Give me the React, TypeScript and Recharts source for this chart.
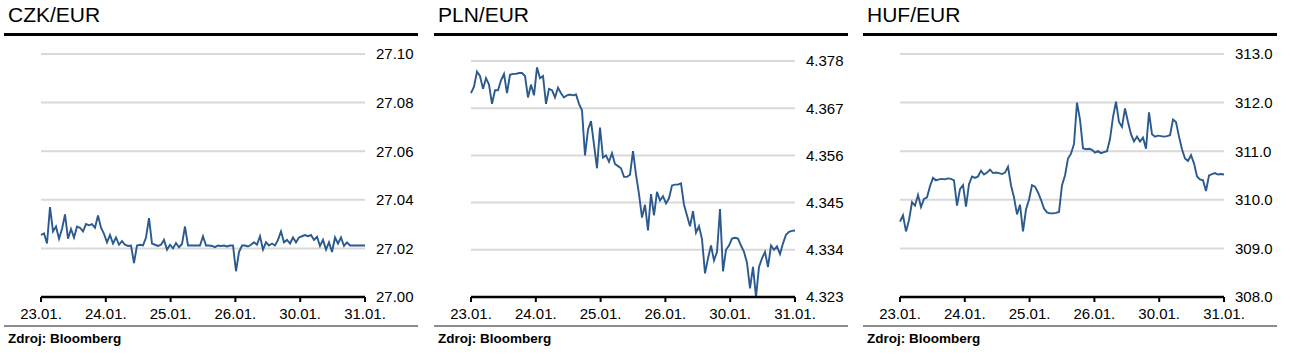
import React from 'react';
import { LineChart, Line, XAxis, YAxis, CartesianGrid } from 'recharts';

const DAYS = ['23.01.', '24.01.', '25.01.', '26.01.', '30.01.', '31.01.'];
const DAY_TICKS = [0, 1, 2, 3, 4, 5];

const CZK_TICKS = [27.0, 27.02, 27.04, 27.06, 27.08, 27.1];
const PLN_TICKS = [4.323, 4.334, 4.345, 4.356, 4.367, 4.378];
const HUF_TICKS = [308, 309, 310, 311, 312, 313];

// intraday quotes (equal steps over 23.01. - 31.01.)
const CZK = [
  27.0255, 27.0262, 27.022, 27.037, 27.027, 27.029, 27.024, 27.028, 27.034, 27.024,
  27.028, 27.0245, 27.029, 27.0285, 27.027, 27.03, 27.0295, 27.03, 27.0285, 27.0335,
  27.0285, 27.026, 27.0225, 27.0255, 27.022, 27.0245, 27.0215, 27.023, 27.0215, 27.021,
  27.0212, 27.014, 27.0212, 27.0215, 27.0212, 27.0245, 27.0325, 27.022, 27.0215, 27.021,
  27.0215, 27.0235, 27.0195, 27.0215, 27.02, 27.0222, 27.0205, 27.0218, 27.029, 27.0212,
  27.0212, 27.0212, 27.0212, 27.0212, 27.025, 27.0212, 27.0212, 27.021, 27.0205, 27.0212,
  27.021, 27.0212, 27.0208, 27.0212, 27.0212, 27.0106, 27.0185, 27.0212, 27.0212, 27.0208,
  27.0215, 27.0225, 27.0215, 27.025, 27.0195, 27.0225, 27.0212, 27.022, 27.0212, 27.0235,
  27.027, 27.0225, 27.0235, 27.022, 27.0245, 27.0225, 27.0245, 27.025, 27.0255, 27.025,
  27.0255, 27.0235, 27.0248, 27.021, 27.0235, 27.0195, 27.0225, 27.0185, 27.0245, 27.022,
  27.0245, 27.021, 27.0225, 27.0212, 27.0212, 27.0212, 27.0212, 27.0212, 27.0212,
];

const PLN = [
  4.3705, 4.372, 4.3755, 4.3745, 4.3715, 4.374, 4.3725, 4.368, 4.3712, 4.3712,
  4.3735, 4.375, 4.3705, 4.3748, 4.375, 4.375, 4.3752, 4.3752, 4.3745, 4.3695,
  4.3725, 4.37, 4.3765, 4.374, 4.3745, 4.368, 4.3715, 4.3712, 4.3695, 4.3718,
  4.3705, 4.3695, 4.37, 4.3702, 4.37, 4.3702, 4.368, 4.3665, 4.356, 4.362,
  4.364, 4.3585, 4.353, 4.3625, 4.3555, 4.356, 4.3545, 4.3565, 4.354, 4.3535,
  4.353, 4.351, 4.351, 4.3515, 4.357, 4.3515, 4.347, 4.3415, 4.3445, 4.3385,
  4.347, 4.342, 4.3475, 4.3455, 4.3465, 4.3448, 4.346, 4.349, 4.3492, 4.3492,
  4.3495, 4.3445, 4.342, 4.3395, 4.343, 4.338, 4.3395, 4.3365, 4.3285, 4.332,
  4.335, 4.3315, 4.3335, 4.3435, 4.329, 4.334, 4.335, 4.3366, 4.3368, 4.3366,
  4.335, 4.3335, 4.331, 4.325, 4.33, 4.323, 4.33, 4.332, 4.3335, 4.33,
  4.335, 4.334, 4.3348, 4.333, 4.3355, 4.3375, 4.3382, 4.3384, 4.3385,
];

const HUF = [
  309.55, 309.68, 309.35, 309.58, 309.95, 309.88, 310.1, 309.85, 310.02, 310.05,
  310.28, 310.45, 310.4, 310.42, 310.43, 310.42, 310.44, 310.43, 310.4, 309.88,
  310.22, 310.3, 309.86, 310.32, 310.48, 310.45, 310.48, 310.6, 310.52, 310.56,
  310.62, 310.55, 310.56, 310.55, 310.53, 310.56, 310.68, 310.3, 310.05, 309.7,
  309.9, 309.35, 309.8, 310.0, 310.3, 310.27, 310.15, 310.0, 309.82, 309.74,
  309.72, 309.72, 309.73, 309.75, 310.3, 310.5, 310.85, 310.95, 311.15, 312.0,
  311.65, 311.06, 311.04, 311.05, 311.03, 310.97, 311.0, 310.96, 310.98, 311.0,
  311.25, 311.7, 312.02, 311.6, 311.5, 311.88, 311.6, 311.35, 311.2, 311.3,
  311.2, 311.28, 311.05, 311.8, 311.35, 311.3, 311.32, 311.31, 311.3, 311.31,
  311.33, 311.65, 311.6, 311.3, 311.04, 310.85, 310.8, 310.92, 310.75, 310.48,
  310.42, 310.4, 310.18, 310.5, 310.53, 310.55, 310.52, 310.53, 310.52,
];

const FONT = '"Liberation Sans", Arial, sans-serif';

function toRows(values: number[]) {
  return values.map((v, i) => ({ t: (i * (DAYS.length - 1)) / (values.length - 1), v }));
}

function Panel({ title, values, ticks, decimals, left, top }: {
  title: string; values: number[]; ticks: number[]; decimals: number; left: number; top: number;
}) {
  return (
    <div style={{ position: 'absolute', left, top: 0, width: 430, height: 361 }}>
      <div style={{ position: 'absolute', left: 8, top: 4, fontSize: 21, lineHeight: '21px', color: '#000' }}>
        {title}
      </div>
      <div style={{ position: 'absolute', left: 4, top: 33, width: 414, height: 3, background: '#000' }} />
      <div style={{ position: 'absolute', left: 0, top: 0 }}>
        <LineChart width={430} height={330} data={toRows(values)} margin={{ top, right: 0, left: 41, bottom: 0 }}>
          <CartesianGrid vertical={false} stroke="#d9d9d9" strokeWidth={2} />
          <XAxis
            dataKey="t"
            type="number"
            domain={[0, 5]}
            ticks={DAY_TICKS}
            tickFormatter={(t: number) => DAYS[t]}
            height={33}
            axisLine={{ stroke: '#000', strokeWidth: 2.5 }}
            tickLine={{ stroke: '#000', strokeWidth: 2 }}
            tickSize={5}
            tickMargin={6}
            tick={{ fill: '#000', fontSize: 15, fontFamily: FONT }}
          />
          <YAxis
            orientation="right"
            type="number"
            domain={[ticks[0], ticks[ticks.length - 1]]}
            ticks={ticks}
            tickFormatter={(v: number) => v.toFixed(decimals)}
            width={65}
            axisLine={false}
            tickLine={false}
            tickSize={0}
            tickMargin={11}
            tick={{ fill: '#000', fontSize: 15, fontFamily: FONT, textAnchor: 'start' }}
          />
          <Line
            dataKey="v"
            type="linear"
            stroke="#2b5a8f"
            strokeWidth={1.9}
            dot={false}
            isAnimationActive={false}
          />
        </LineChart>
      </div>
      <div style={{ position: 'absolute', left: 4, top: 325, width: 414, height: 2, background: '#8c8c8c' }} />
      <div style={{ position: 'absolute', left: 8, top: 332, fontSize: 13.5, lineHeight: '14px', fontWeight: 'bold', color: '#000' }}>
        Zdroj: Bloomberg
      </div>
    </div>
  );
}

export default function App() {
  return (
    <div style={{ position: 'absolute', left: 0, top: 0, width: 1291, height: 361, background: '#fff', fontFamily: FONT }}>
      <Panel title="CZK/EUR" values={CZK} ticks={CZK_TICKS} decimals={2} left={0} top={54} />
      <Panel title="PLN/EUR" values={PLN} ticks={PLN_TICKS} decimals={3} left={430} top={61} />
      <Panel title="HUF/EUR" values={HUF} ticks={HUF_TICKS} decimals={1} left={859} top={54} />
    </div>
  );
}
